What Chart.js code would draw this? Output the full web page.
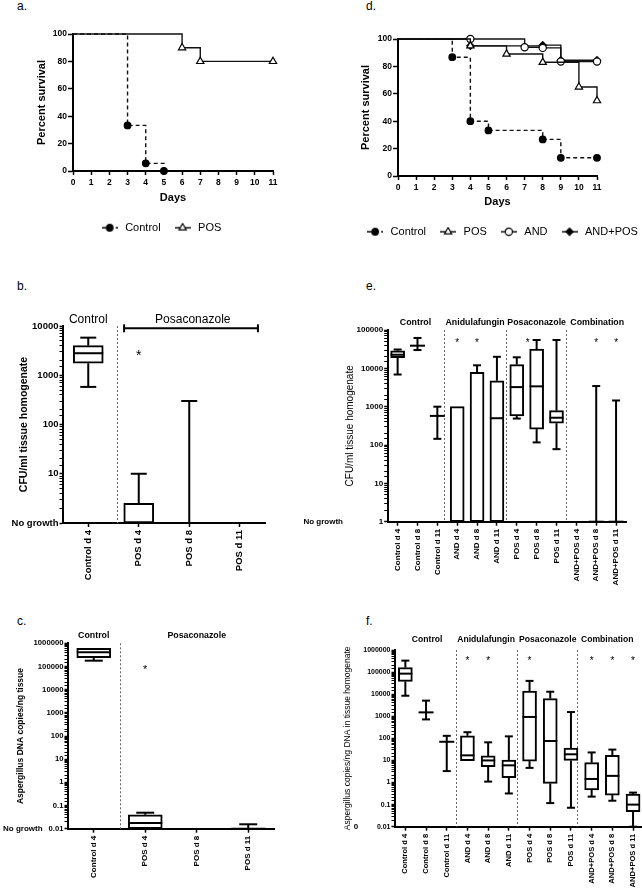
<!DOCTYPE html>
<html>
<head>
<meta charset="utf-8">
<script src="https://cdn.jsdelivr.net/npm/chart.js@4.4.1/dist/chart.umd.min.js"></script>
<style>
  body { margin: 0; width: 642px; height: 892px; overflow: hidden; background: #fff; position: relative;
         font-family: Arial, "Liberation Sans", sans-serif; }
  canvas { position: absolute; }
  .tag { position: absolute; font-size: 12px; line-height: 12px; }
</style>
</head>
<body>
<div class="tag" style="left:17px;top:0">a.</div>
<div class="tag" style="left:366px;top:0">d.</div>
<div class="tag" style="left:17px;top:280px">b.</div>
<div class="tag" style="left:366px;top:280px">e.</div>
<div class="tag" style="left:17px;top:615px">c.</div>
<div class="tag" style="left:366px;top:615px">f.</div>

<canvas id="chartA" width="321" height="250" style="left:0;top:0"></canvas>
<canvas id="chartD" width="321" height="250" style="left:341px;top:0"></canvas>
<canvas id="chartB" width="280" height="340" style="left:0;top:250px"></canvas>
<canvas id="chartE" width="362" height="340" style="left:280px;top:250px"></canvas>
<canvas id="chartC" width="300" height="292" style="left:0;top:600px"></canvas>
<canvas id="chartF" width="370" height="292" style="left:280px;top:600px"></canvas>

<script>
// ---- survival data (panel a) ----
const aControlDays = [0, 3, 4, 5];
const aControlSurv = [100, 33.3, 5.6, 0];
const aPosDays = [0, 6, 7, 11];
const aPosSurv = [100, 90, 80, 80];

// ---- survival data (panel d) ----
const dControlDays = [0, 3, 4, 5, 8, 9, 11];
const dControlSurv = [100, 86.7, 40, 33.3, 26.7, 13.3, 13.3];
const dPosDays = [0, 4, 6, 8, 10, 11];
const dPosSurv = [100, 95, 89, 83, 65, 55];
const dAndDays = [0, 4, 7, 8, 9, 11];
const dAndSurv = [100, 100, 94, 93.5, 83.5, 83.5];
const dComboDays = [0, 4, 8, 9, 11];
const dComboSurv = [100, 95, 95.5, 84.5, 84.5];

// ---- panel b: CFU/ml (box plots) ----
const bCats = ['Control d 4', 'POS d 4', 'POS d 8', 'POS d 11'];
const bMin = [580, 1, 1, null];
const bQ1 = [1750, 1, 1, null];
const bMed = [2800, 1, 1, null];
const bQ3 = [4000, 2.5, 1, null];
const bMax = [5800, 10, 300, null];

// ---- panel c: DNA copies/ng tissue ----
const cCats = ['Control d 4', 'POS d 4', 'POS d 8', 'POS d 11'];
const cMin = [178000, 0.01, null, 0.01];
const cQ1 = [240000, 0.01, null, 0.01];
const cMed = [410000, 0.0175, null, 0.01];
const cQ3 = [600000, 0.04, null, 0.01];
const cMax = [600000, 0.049, null, 0.0155];

// ---- panel e: CFU/ml, combination study ----
const comboCats = ['Control d 4', 'Control d 8', 'Control d 11', 'AND d 4', 'AND d 8', 'AND d 11',
  'POS d 4', 'POS d 8', 'POS d 11', 'AND+POS d 4', 'AND+POS d 8', 'AND+POS d 11'];
const eMin = [6900, 30000, 145, 1, 1, 1, 490, 117, 78, null, 1, 1];
const eQ1 = [19000, 39000, 575, 1, 1, 1, 570, 260, 370, null, 1, 1];
const eMed = [22600, 39000, 575, 1, 1, 500, 3240, 3390, 515, null, 1, 1];
const eQ3 = [28800, 39000, 575, 1000, 7900, 4750, 12500, 31900, 790, null, 1, 1];
const eMax = [31000, 62000, 1000, 1000, 12000, 20000, 19400, 54800, 54800, null, 3450, 1450];

// ---- panel f: copies/ng DNA, combination study ----
const fMin = [8500, 720, 3.3, 9.7, 1.1, 0.32, 4.6, 0.117, 0.072, 0.23, 0.15, 0.01];
const fQ1 = [38000, 1500, 70, 9.7, 5.2, 1.65, 9.3, 0.91, 10, 0.46, 0.27, 0.048];
const fMed = [85000, 1500, 70, 17, 10, 6, 930, 76, 19, 1.45, 2.0, 0.1];
const fQ3 = [160000, 1500, 70, 130, 16, 10.5, 13900, 6300, 36, 7.9, 17, 0.3];
const fMax = [330000, 5100, 130, 190, 66, 123, 40000, 12900, 1550, 23, 31, 0.35];

Chart.defaults.font.family = 'Arial, "Liberation Sans", sans-serif';
Chart.defaults.color = '#000';

const FAMILY = 'Arial, "Liberation Sans", sans-serif';
const bold = size => ({ size: size, weight: 'bold' });
const plain = size => ({ size: size, weight: 'normal' });

const isDecade = v => {
    const e = Math.log10(v);
    return Math.abs(e - Math.round(e)) < 1e-6;
};
const decadeLabel = v => {
    if (!isDecade(v)) return '';
    const e = Math.round(Math.log10(v));
    return e < 0 ? v.toFixed(-e) : String(Math.round(v));
};

// empty right axis, only reserves room so the plot ends where it should
const spacer = w => ({
    type: 'linear', position: 'right', display: true,
    grid: { display: false }, ticks: { display: false }, border: { display: false },
    afterFit: s => { s.width = w; }
});

// little "line + marker" picture for the legend
const legendIcon = s => {
    const c = document.createElement('canvas');
    c.width = 16; c.height = 10;
    const g = c.getContext('2d');
    g.strokeStyle = '#000';
    g.lineWidth = 1.4;
    g.setLineDash(s.dash ? [4, 3] : []);
    g.beginPath(); g.moveTo(0, 5); g.lineTo(16, 5); g.stroke();
    g.setLineDash([]);
    g.fillStyle = s.fill;
    g.lineWidth = 1.2;
    Chart.helpers.drawPoint(g, { pointStyle: s.style, radius: s.r, borderWidth: 1.2, rotation: 0 }, 8, 5);
    return c;
};

const survChart = (id, series, cfg) => new Chart(document.getElementById(id), {
    type: 'scatter',
    data: {
        datasets: series.map(s => ({
            label: s.label,
            data: s.days.map((d, i) => ({ x: d, y: s.surv[i] })),
            showLine: true,
            stepped: true,
            clip: false,
            borderColor: '#111',
            borderWidth: 1.4,
            borderDash: s.dash ? [4, 3] : [],
            pointStyle: s.style,
            pointBackgroundColor: s.fill,
            pointBorderColor: '#000',
            pointBorderWidth: 1.2,
            pointRadius: c => (c.dataIndex === 0 ? 0 : s.r)
        }))
    },
    options: {
        responsive: false,
        animation: false,
        events: [],
        layout: { padding: { top: cfg.top, bottom: cfg.bottom, left: 0, right: 0 } },
        plugins: {
            tooltip: { enabled: false },
            legend: {
                position: 'bottom',
                labels: {
                    usePointStyle: true,
                    pointStyleWidth: 20,
                    padding: 12,
                    color: '#000',
                    font: plain(11),
                    generateLabels: () => series.map((s, i) => ({
                        text: s.label, pointStyle: legendIcon(s), fillStyle: s.fill,
                        strokeStyle: '#000', lineWidth: 0, hidden: false, datasetIndex: i, fontColor: '#000'
                    }))
                }
            }
        },
        scales: {
            x: {
                type: 'linear', min: 0, max: 11,
                ticks: { stepSize: 1, font: bold(8.5), padding: 3 },
                grid: { drawOnChartArea: false, tickLength: 4, tickColor: '#000', tickWidth: 1.5 },
                border: { display: true, width: 2, color: '#000' },
                title: { display: true, text: 'Days', font: bold(11), padding: { top: 0, bottom: 5.6 } },
                afterFit: s => { s.height = cfg.xH; }
            },
            y: {
                min: 0, max: 100,
                ticks: { stepSize: 20, font: bold(8.5), padding: 1 },
                grid: { drawOnChartArea: false, tickLength: 5, tickColor: '#000', tickWidth: 1.5 },
                border: { display: true, width: 2, color: '#000' },
                title: { display: true, text: 'Percent survival', font: bold(11), padding: { top: cfg.titlePad, bottom: 0 } },
                afterFit: s => { s.width = cfg.yW; }
            },
            r: spacer(cfg.rW)
        }
    }
});

// whiskers, medians, dividers and labels drawn through the chart's scales
const boxMarks = (cfg, lo, q1, med, q3, hi) => ({
    id: 'boxMarks',
    beforeDatasetsDraw(chart) {
        const { ctx, chartArea: a, scales: { x } } = chart;
        ctx.save();
        ctx.strokeStyle = '#666';
        ctx.lineWidth = 1;
        ctx.setLineDash([2, 2]);
        cfg.dividers.forEach(d => {
            const px = Math.round(x.getPixelForValue(d)) + 0.5;
            ctx.beginPath(); ctx.moveTo(px, a.top); ctx.lineTo(px, a.bottom); ctx.stroke();
        });
        ctx.restore();
    },
    afterDatasetsDraw(chart) {
        const { ctx, chartArea: a, scales: { x, y } } = chart;
        const Y = v => y.getPixelForValue(v);
        const seg = (x1, y1, x2, y2) => { ctx.beginPath(); ctx.moveTo(x1, y1); ctx.lineTo(x2, y2); ctx.stroke(); };
        ctx.save();
        ctx.strokeStyle = '#000';
        ctx.lineWidth = 2;
        lo.forEach((v, i) => {
            if (v == null) return;
            const cx = x.getPixelForValue(i);
            const cw = cfg.capW / 2;
            if (hi[i] > q3[i]) {
                seg(cx, Y(q3[i]), cx, Y(hi[i]));
                seg(cx - cw, Y(hi[i]), cx + cw, Y(hi[i]));
            }
            if (v < q1[i]) {
                seg(cx, Y(q1[i]), cx, Y(v));
                seg(cx - cw, Y(v), cx + cw, Y(v));
            }
            const w = (q3[i] > q1[i] ? cfg.boxW : cfg.medW) / 2;
            seg(cx - w, Y(med[i]), cx + w, Y(med[i]));
        });

        ctx.fillStyle = '#000';
        ctx.textAlign = 'center';
        ctx.textBaseline = 'alphabetic';
        ctx.font = cfg.starFont;
        cfg.stars.forEach(s => ctx.fillText('*', x.getPixelForValue(s), Y(cfg.starAt) + cfg.starSize * 0.57));

        ctx.textBaseline = 'middle';
        ctx.font = cfg.groupFont;
        cfg.groups.forEach(g => ctx.fillText(g.text, x.getPixelForValue(g.at), a.top - cfg.groupDy));

        if (cfg.bracket) {
            const x1 = x.getPixelForValue(cfg.bracket.from);
            const x2 = x.getPixelForValue(cfg.bracket.to);
            const by = a.top + cfg.bracket.dy;
            seg(x1, by, x2, by);
            seg(x1, by - 4, x1, by + 4);
            seg(x2, by - 4, x2, by + 4);
        }

        (cfg.notes || []).forEach(n => {
            ctx.font = n.font;
            ctx.textAlign = n.align;
            ctx.fillText(n.text, n.x, Y(n.value));
        });
        ctx.restore();
    }
});

const boxChart = (id, cats, lo, q1, med, q3, hi, cfg) => new Chart(document.getElementById(id), {
    type: 'bar',
    data: {
        labels: cats,
        datasets: [{
            data: cats.map((c, i) => (q1[i] != null && q3[i] > q1[i] ? [q1[i], q3[i]] : null)),
            backgroundColor: '#fff',
            borderColor: '#000',
            borderWidth: 2,
            borderSkipped: false,
            barThickness: cfg.boxW
        }]
    },
    options: {
        responsive: false,
        animation: false,
        events: [],
        layout: { padding: { top: cfg.top, bottom: 0, left: 0, right: 0 } },
        plugins: { legend: { display: false }, tooltip: { enabled: false } },
        scales: {
            x: {
                grid: { drawOnChartArea: false, offset: false, tickLength: 4, tickColor: '#000', tickWidth: 1.5 },
                border: { display: true, width: 2, color: '#000' },
                ticks: { minRotation: 90, maxRotation: 90, autoSkip: false, font: bold(cfg.catSize), padding: 3 },
                afterFit: s => { s.height = cfg.xH; }
            },
            y: {
                type: 'logarithmic',
                min: cfg.min,
                max: cfg.max,
                grid: {
                    drawOnChartArea: false, tickLength: 3.5, tickColor: '#000',
                    tickWidth: c => (c.tick && isDecade(c.tick.value) ? 1.5 : 1)
                },
                border: { display: true, width: 2, color: '#000' },
                ticks: {
                    autoSkip: false,
                    font: bold(cfg.tickSize),
                    padding: 1,
                    callback: v => (cfg.bottomLabel && v === cfg.min ? cfg.bottomLabel : decadeLabel(v))
                },
                title: { display: true, text: cfg.title, font: cfg.titleFont, padding: { top: cfg.titlePad, bottom: 0 } },
                afterFit: s => { s.width = cfg.yW; }
            },
            r: spacer(cfg.rW)
        }
    },
    plugins: [boxMarks(cfg, lo, q1, med, q3, hi)]
});

// ---- panels a and d ----
survChart('chartA', [
    { label: 'Control', days: aControlDays, surv: aControlSurv, dash: true, style: 'circle', fill: '#000', r: 3.3 },
    { label: 'POS', days: aPosDays, surv: aPosSurv, dash: false, style: 'triangle', fill: '#fff', r: 4.2 }
], { top: 34, bottom: 6.8, xH: 39.2, yW: 73, rW: 48, titlePad: 35.1 });

survChart('chartD', [
    { label: 'Control', days: dControlDays, surv: dControlSurv, dash: true, style: 'circle', fill: '#000', r: 3.3 },
    { label: 'POS', days: dPosDays, surv: dPosSurv, dash: false, style: 'triangle', fill: '#fff', r: 4.2 },
    { label: 'AND', days: dAndDays, surv: dAndSurv, dash: false, style: 'circle', fill: '#fff', r: 3.6 },
    { label: 'AND+POS', days: dComboDays, surv: dComboSurv, dash: false, style: 'rectRot', fill: '#000', r: 3.6 }
], { top: 39, bottom: 2.8, xH: 38.2, yW: 57, rW: 65, titlePad: 18.4 });

// ---- panels b, c, e, f ----
boxChart('chartB', bCats, bMin, bQ1, bMed, bQ3, bMax, {
    min: 1, max: 10000, bottomLabel: 'No growth',
    title: 'CFU/ml tissue homogenate', titleFont: bold(10.5), titlePad: 17.7,
    top: 76, xH: 67, yW: 63, rW: 15, tickSize: 9.5, catSize: 9.5,
    boxW: 30, capW: 16, medW: 30,
    dividers: [0.57],
    groups: [{ text: 'Control', at: 0 }, { text: 'Posaconazole', at: 2.07 }],
    groupFont: 'normal 12px ' + FAMILY, groupDy: 6,
    bracket: { from: 0.71, to: 3.36, dy: 2.3 },
    stars: [1], starAt: 3000, starSize: 14, starFont: 'normal 14px ' + FAMILY
});

boxChart('chartC', cCats, cMin, cQ1, cMed, cQ3, cMax, {
    min: 0.01, max: 1000000,
    title: 'Aspergillus DNA copies/ng tissue', titleFont: bold(8.5), titlePad: 15.6,
    top: 43.3, xH: 63.3, yW: 68, rW: 26, tickSize: 7.7, catSize: 8,
    boxW: 34, capW: 18, medW: 34,
    dividers: [0.5],
    groups: [{ text: 'Control', at: 0 }, { text: 'Posaconazole', at: 2 }],
    groupFont: 'bold 8.8px ' + FAMILY, groupDy: 8,
    stars: [1], starAt: 100000, starSize: 11, starFont: 'normal 11px ' + FAMILY,
    notes: [{ text: 'No growth', x: 3, value: 0.01, align: 'left', font: 'bold 8px ' + FAMILY }]
});

boxChart('chartE', comboCats, eMin, eQ1, eMed, eQ3, eMax, {
    min: 1, max: 100000,
    title: 'CFU/ml tissue homogenate', titleFont: plain(10), titlePad: 64.3,
    top: 80, xH: 68.3, yW: 107.7, rW: 16, tickSize: 8, catSize: 8,
    boxW: 14, capW: 8, medW: 15,
    dividers: [2.35, 5.45, 8.5],
    groups: [{ text: 'Control', at: 0.9 }, { text: 'Anidulafungin', at: 3.9 },
             { text: 'Posaconazole', at: 7 }, { text: 'Combination', at: 10.05 }],
    groupFont: 'bold 8.8px ' + FAMILY, groupDy: 7.3,
    stars: [3, 4, 6.55, 10, 11], starAt: 55000, starSize: 10, starFont: 'normal 10px ' + FAMILY,
    notes: [{ text: 'No growth', x: 63, value: 1, align: 'right', font: 'bold 8px ' + FAMILY }]
});

boxChart('chartF', comboCats, fMin, fQ1, fMed, fQ3, fMax, {
    min: 0.01, max: 1000000,
    title: 'Aspergillus copies/ng DNA in tissue homogenate', titleFont: plain(8.5), titlePad: 62.6,
    top: 50, xH: 65.3, yW: 115, rW: 6.6, tickSize: 7, catSize: 7.6,
    boxW: 14, capW: 8, medW: 15,
    dividers: [2.45, 5.4, 8.3],
    groups: [{ text: 'Control', at: 1.05 }, { text: 'Anidulafungin', at: 3.9 },
             { text: 'Posaconazole', at: 6.88 }, { text: 'Combination', at: 9.75 }],
    groupFont: 'bold 8.6px ' + FAMILY, groupDy: 10,
    stars: [3, 4, 6, 9, 10, 11], starAt: 400000, starSize: 10, starFont: 'normal 10px ' + FAMILY,
    notes: [{ text: '0', x: 76, value: 0.01, align: 'center', font: 'bold 8px ' + FAMILY }]
});
</script>
</body>
</html>
